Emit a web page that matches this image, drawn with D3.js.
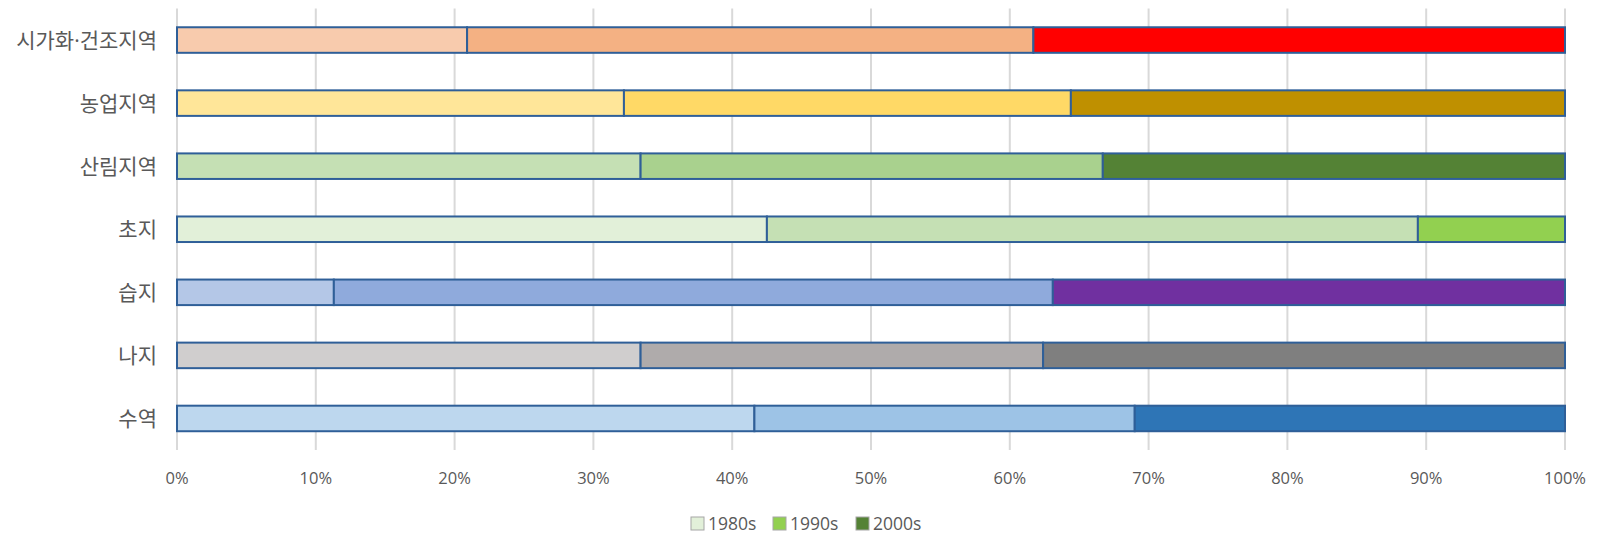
<!DOCTYPE html>
<html>
<head>
<meta charset="utf-8">
<script src="https://cdn.jsdelivr.net/npm/d3@7"></script>
<style>
  body { margin: 0; background: #fff; }
  svg { display: block; }
</style>
</head>
<body>
<script>
// categories top to bottom
const categories = ['시가화·건조지역', '농업지역', '산림지역', '초지', '습지', '나지', '수역']
const decades = ['1980s', '1990s', '2000s']
// share of each decade, percent
const share1980s = [20.9, 32.2, 33.4, 42.5, 11.3, 33.4, 41.6]
const share1990s = [40.8, 32.2, 33.3, 46.9, 51.8, 29.0, 27.4]
const share2000s = [38.3, 35.6, 33.3, 10.6, 36.9, 37.6, 31.0]
const xTicks = [0, 10, 20, 30, 40, 50, 60, 70, 80, 90, 100]
// fill per row, one for each decade
const rowColors = [
  ['#F8CBAD', '#F4B183', '#FF0000'],
  ['#FFE699', '#FFD966', '#BF9000'],
  ['#C5E0B4', '#A9D18E', '#548235'],
  ['#E2F0D9', '#C5E0B4', '#92D050'],
  ['#B4C7E7', '#8FAADC', '#7030A0'],
  ['#D0CECE', '#AFABAB', '#7F7F7F'],
  ['#BDD7EE', '#9DC3E6', '#2E75B6']
]
const legendColors = ['#E2F0D9', '#92D050', '#548235']

const width = 1600
const height = 546
const margin = { top: 8.5, right: 35, bottom: 96, left: 177 }

const svg = d3.select('body').append('svg')
  .attr('width', width)
  .attr('height', height)

const x = d3.scaleLinear()
  .domain([0, 100])
  .range([margin.left, width - margin.right])

const y = d3.scaleBand()
  .domain(categories)
  .range([margin.top, height - margin.bottom])
  .paddingInner(0.595)
  .paddingOuter(0.2975)

// gridlines
svg.append('g')
  .selectAll('line')
  .data(xTicks)
  .join('line')
  .attr('x1', d => x(d))
  .attr('x2', d => x(d))
  .attr('y1', margin.top)
  .attr('y2', height - margin.bottom)
  .attr('stroke', '#D9D9D9')
  .attr('stroke-width', 2)

// tick labels
svg.append('g')
  .selectAll('text')
  .data(xTicks)
  .join('text')
  .attr('x', d => x(d))
  .attr('y', 484)
  .attr('text-anchor', 'middle')
  .attr('font-family', '"Open Sans", sans-serif')
  .attr('font-size', 16.5)
  .attr('fill', '#595959')
  .text(d => d + '%')

// category labels (Open Sans first so the middle dot stays narrow)
svg.append('g')
  .selectAll('text')
  .data(categories)
  .join('text')
  .attr('x', 157)
  .attr('y', d => y(d) + y.bandwidth() / 2)
  .attr('dy', '0.36em')
  .attr('text-anchor', 'end')
  .attr('font-family', '"Open Sans", "Noto Sans CJK KR", sans-serif')
  .attr('font-size', 21)
  .attr('fill', '#595959')
  .text(d => d)

// stacked bars
const table = categories.map((c, i) => ({
  category: c,
  '1980s': share1980s[i],
  '1990s': share1990s[i],
  '2000s': share2000s[i],
  row: i
}))
const series = d3.stack().keys(decades)(table)

series.forEach((s, k) => {
  svg.append('g')
    .selectAll('rect')
    .data(s)
    .join('rect')
    .attr('x', d => x(d[0]))
    .attr('width', d => x(d[1]) - x(d[0]))
    .attr('y', d => y(d.data.category))
    .attr('height', y.bandwidth())
    .attr('fill', d => rowColors[d.data.row][k])
    .attr('stroke', '#2F5F98')
    .attr('stroke-width', 2)
})

// legend
const legend = svg.append('g')
const legendX = [691, 773, 856]
decades.forEach((d, i) => {
  const g = legend.append('g').attr('transform', `translate(${legendX[i]}, 517)`)
  g.append('rect')
    .attr('width', 13)
    .attr('height', 13)
    .attr('fill', legendColors[i])
    .attr('stroke', '#A6A6A6')
    .attr('stroke-width', 1)
  g.append('text')
    .attr('x', 17)
    .attr('y', 7)
    .attr('dy', '0.35em')
    .attr('font-family', '"Open Sans", sans-serif')
    .attr('font-size', 17.5)
    .attr('fill', '#595959')
    .text(d)
})
</script>
</body>
</html>
